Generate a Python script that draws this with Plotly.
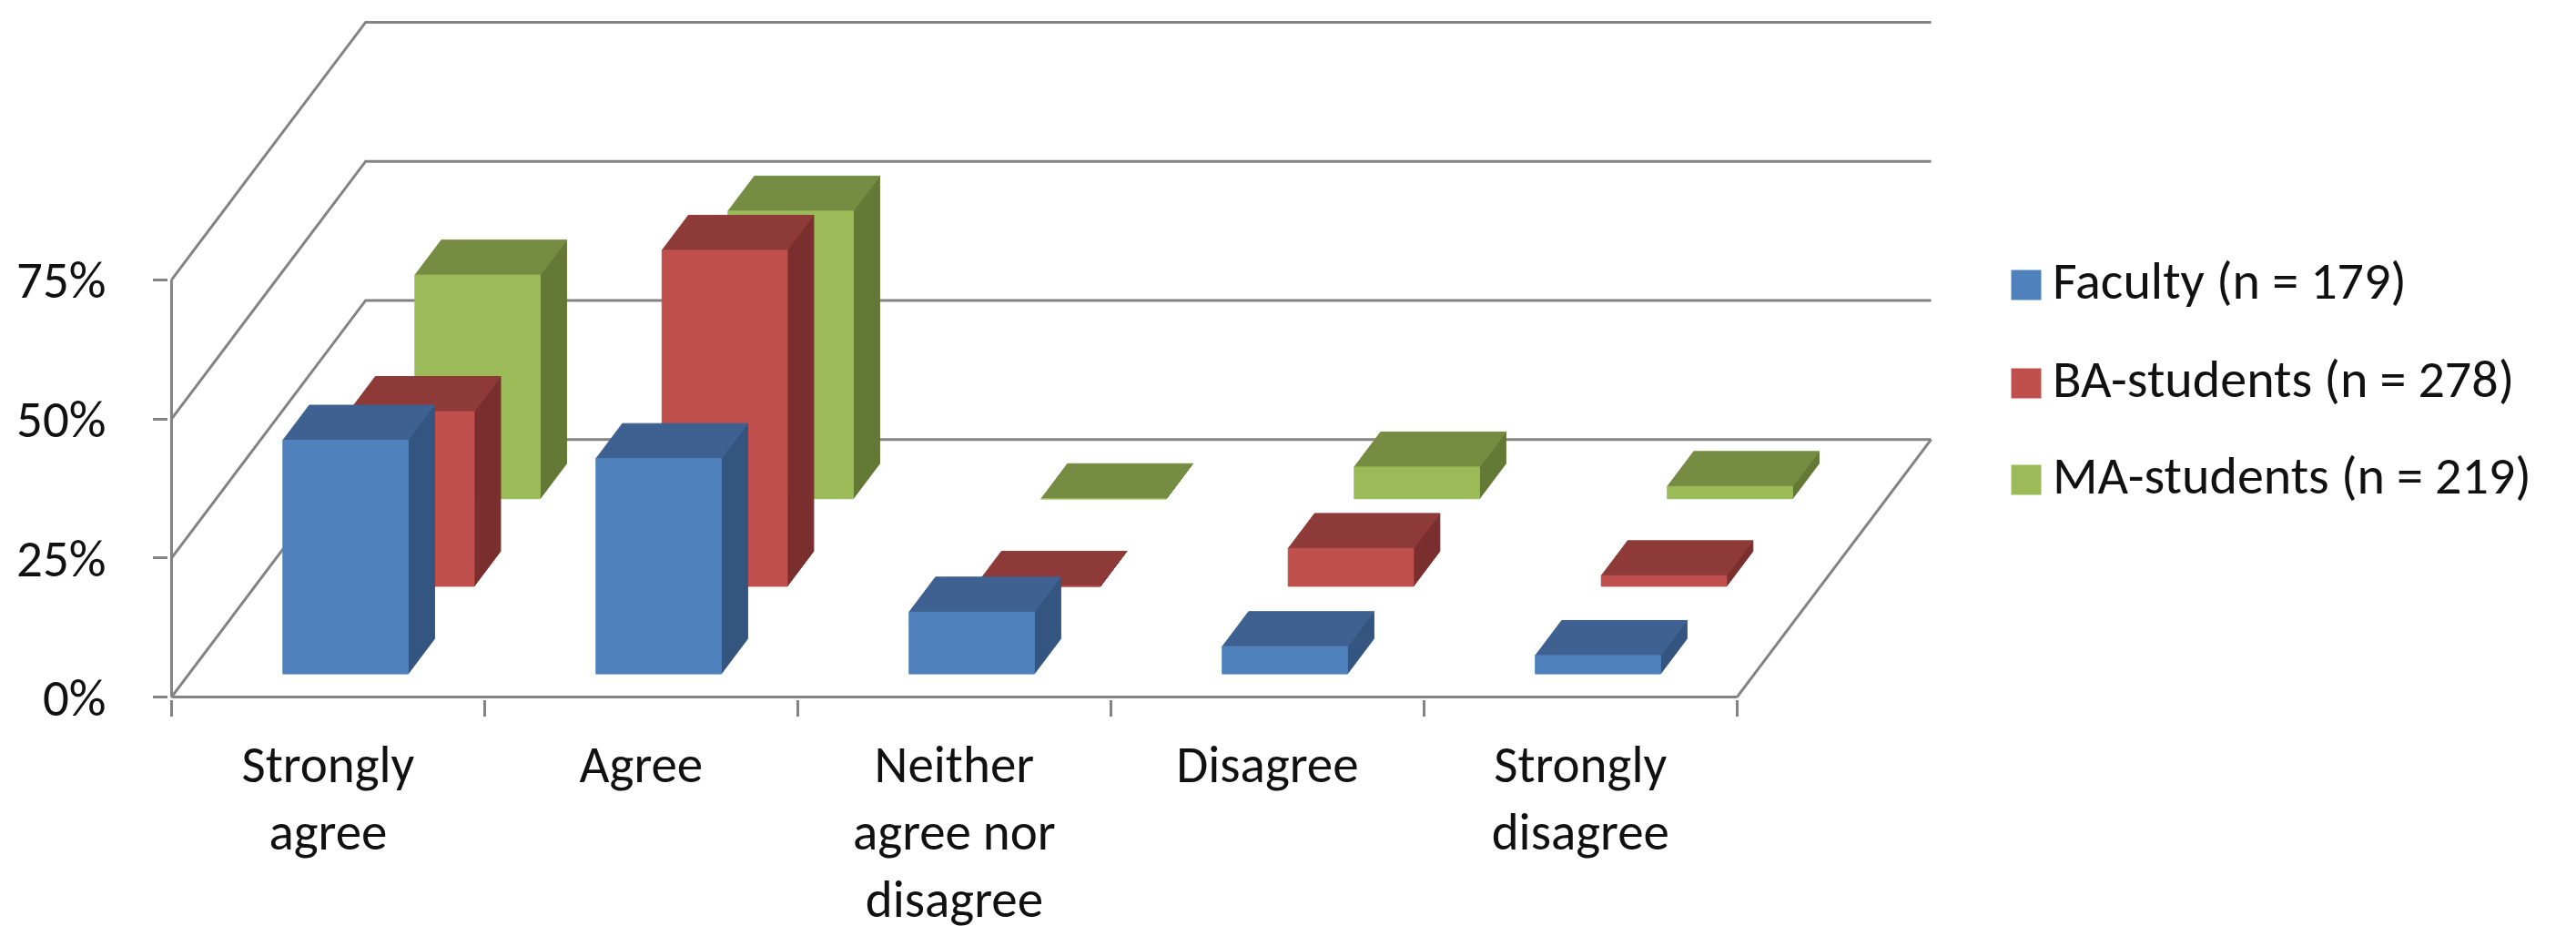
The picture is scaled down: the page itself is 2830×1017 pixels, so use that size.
import plotly.graph_objects as go

# data (percent of respondents)
categories = ["Strongly agree", "Agree", "Neither agree nor disagree", "Disagree", "Strongly disagree"]
category_labels = ["Strongly<br>agree", "Agree", "Neither<br>agree nor<br>disagree", "Disagree", "Strongly<br>disagree"]
series_names = ["Faculty (n = 179)", "BA-students (n = 278)", "MA-students (n = 219)"]
faculty = [42.0, 38.7, 11.1, 4.9, 3.3]
ba_students = [31.4, 60.4, 0.0, 6.8, 1.9]
ma_students = [40.2, 51.7, 0.0, 5.7, 2.2]
y_ticks = [0, 25, 50, 75]
y_tick_labels = ["0%", "25%", "50%", "75%"]

# excel-like 3d colours: front, top, side
front_colors = ["#4F81BD", "#C0504D", "#9BBB59"]
top_colors = ["#3E6191", "#8E3A38", "#778C43"]
side_colors = ["#33557F", "#7B2E2E", "#657937"]
grid_color = "#838383"
font_family = "Carlito, 'Liberation Sans Narrow', Lato, sans-serif"

# oblique projection of the depth axis (x in categories, y in percent)
DX = 0.62
DY = 46.3
BAR_W = 0.4
ROW_START = 0.09
ROW_STEP = 0.34
BAR_DEPTH = 0.136
Y_MAX = y_ticks[-1]


def proj(x, z, y):
    return x + z * DX, y + z * DY


def poly_trace(polys, color):
    xs, ys = [], []
    for p in polys:
        for x, y in p + [p[0]]:
            xs.append(x)
            ys.append(y)
        xs.append(None)
        ys.append(None)
    return go.Scatter(x=xs, y=ys, mode="lines", fill="toself", fillcolor=color,
                      line=dict(color=color, width=1), hoverinfo="skip",
                      showlegend=False, xaxis="x", yaxis="y")


fig = go.Figure()

# walls and floor
n = len(categories)
x0, x1 = -0.5, n - 0.5
wx, wy = [], []
for g in y_ticks:
    pts = [proj(x0, 0, g), proj(x0, 1, g), proj(x1, 1, g)]
    for x, y in pts:
        wx.append(x)
        wy.append(y)
    wx.append(None)
    wy.append(None)
for a, b in [((x0, 0, 0), (x0, 0, Y_MAX)), ((x0, 0, 0), (x1, 0, 0)), ((x1, 0, 0), (x1, 1, 0))]:
    for pt in (a, b):
        x, y = proj(*pt)
        wx.append(x)
        wy.append(y)
    wx.append(None)
    wy.append(None)
fig.add_trace(go.Scatter(x=wx, y=wy, mode="lines", line=dict(color=grid_color, width=3),
                         hoverinfo="skip", showlegend=False))

# bars, back row first
all_series = [faculty, ba_students, ma_students]
for r in reversed(range(len(all_series))):
    values = all_series[r]
    z0 = ROW_START + r * ROW_STEP
    z1 = z0 + BAR_DEPTH
    fronts, tops, sides = [], [], []
    for i, v in enumerate(values):
        xl, xr = i - BAR_W / 2, i + BAR_W / 2
        fronts.append([proj(xl, z0, 0), proj(xr, z0, 0), proj(xr, z0, v), proj(xl, z0, v)])
        tops.append([proj(xl, z0, v), proj(xr, z0, v), proj(xr, z1, v), proj(xl, z1, v)])
        sides.append([proj(xr, z0, 0), proj(xr, z1, 0), proj(xr, z1, v), proj(xr, z0, v)])
    fig.add_trace(poly_trace(sides, side_colors[r]))
    fig.add_trace(poly_trace(tops, top_colors[r]))
    fig.add_trace(poly_trace(fronts, front_colors[r]))

W, H = 2830, 1017
L, R, T, B = 177, 20, 14, 257
paper_w = W - L - R
main_w = 1940
LEG_X = 2195

# legend drawn on its own small axis (pixel units)
legend_y = [305, 413, 519]
fig.add_trace(go.Scatter(x=[23] * 3, y=legend_y, mode="markers",
                         marker=dict(symbol="square", size=33, color=front_colors, line=dict(width=0)),
                         hoverinfo="skip", showlegend=False, xaxis="x2", yaxis="y2"))
fig.add_trace(go.Scatter(x=[52] * 3, y=legend_y, mode="text", text=series_names,
                         textposition="middle right",
                         textfont=dict(size=58, color="#111111", family=font_family),
                         hoverinfo="skip", showlegend=False, xaxis="x2", yaxis="y2"))

fig.update_layout(
    width=W, height=H,
    margin=dict(l=L, r=R, t=T, b=B, autoexpand=False),
    paper_bgcolor="white", plot_bgcolor="white",
    font=dict(family=font_family, size=57, color="#111111"),
    showlegend=False,
    xaxis=dict(
        domain=[0, main_w / paper_w],
        range=[-0.51, n - 0.5 + DX + 0.01],
        tickmode="array", tickvals=list(range(n)), ticktext=category_labels,
        ticks="", showgrid=False, zeroline=False, showline=False,
        ticklabelstandoff=33, automargin=False,
        minor=dict(tickmode="array", tickvals=[i - 0.5 for i in range(n + 1)],
                   ticks="outside", ticklen=18, tickwidth=3, tickcolor=grid_color, showgrid=False),
    ),
    yaxis=dict(
        range=[-0.4, Y_MAX + DY + 0.4],
        tickmode="array", tickvals=y_ticks, ticktext=y_tick_labels,
        ticks="outside", ticklen=16, tickwidth=3, tickcolor=grid_color,
        showgrid=False, zeroline=False, showline=False,
        ticklabelstandoff=40, automargin=False,
    ),
    xaxis2=dict(domain=[(LEG_X - L) / paper_w, 1], range=[0, W - R - LEG_X], visible=False,
                anchor="y2"),
    yaxis2=dict(domain=[0, 1], range=[H - B, T], visible=False, anchor="x2"),
)

fig.write_html("out.html")
